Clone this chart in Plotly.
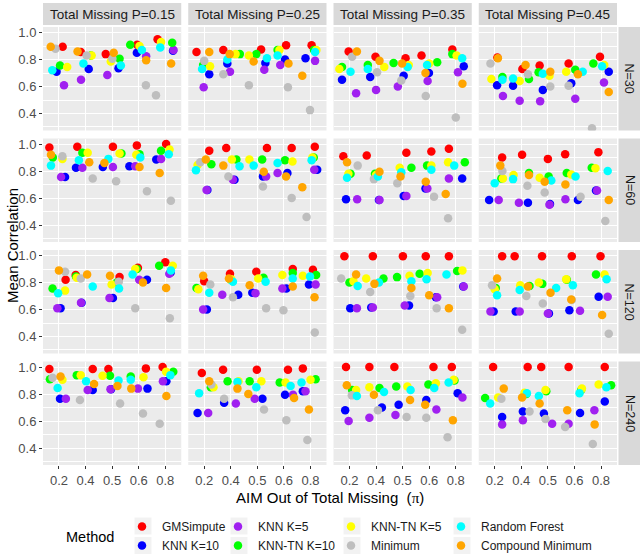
import plotly.graph_objects as go

# ---------------- data ----------------
P_LEVELS = ["0.15", "0.25", "0.35", "0.45"]
N_LEVELS = ["30", "60", "120", "240"]
AIM_LABELS = ["0.2", "0.4", "0.5", "0.6", "0.8"]
METHODS = ["GMSimpute", "KNN K=10", "KNN K=5", "KNN-TN K=10",
           "KNN-TN K=5", "Minimum", "Random Forest", "Compound Minimum"]
COLORS = ["#FF0000", "#0000FF", "#A020F0", "#00FF00",
          "#FFFF00", "#BEBEBE", "#00FFFF", "#FFA500"]

# panels in order: N=30 (P=.15,.25,.35,.45), N=60 (...), N=120 (...), N=240 (...)
# x = jittered AIM position (1..5 -> 0.2,0.4,0.5,0.6,0.8), y = mean correlation
GMS_X = [[1.14,1.82,2.76,3.94,4.71],[0.71,1.72,3.14,4.08,5.04],[0.97,1.98,3.11,3.71,4.87],[1.10,2.04,2.69,3.78,4.96],
         [0.64,1.69,3.03,3.93,5.03],[1.19,1.83,3.36,4.29,5.16],[0.77,1.65,3.14,4.08,4.74],[1.28,2.03,3.00,3.65,4.90],
         [1.25,1.63,3.28,3.97,5.00],[1.00,1.97,2.96,4.33,5.09],[0.81,1.88,3.01,3.87,4.74],[1.28,1.75,2.78,3.90,4.98],
         [0.64,2.27,2.86,4.27,4.90],[0.91,1.71,2.98,4.15,4.71],[0.87,1.75,2.69,4.16,4.85],[0.94,2.24,2.75,3.78,5.14]]
GMS_Y = [[0.895,0.855,0.84,0.91,0.95],[0.855,0.87,0.875,0.905,0.905],[0.86,0.82,0.81,0.83,0.875],[0.815,0.73,0.755,0.77,0.82],
         [0.975,0.98,0.98,0.99,1.0],[0.95,0.97,0.97,0.97,0.98],[0.91,0.915,0.935,0.945,0.965],[0.90,0.92,0.89,0.925,0.94],
         [0.82,0.855,0.84,0.91,0.95],[0.81,0.865,0.88,0.90,0.895],[0.995,0.995,0.995,0.995,0.995],[0.995,0.995,0.995,0.995,0.995],
         [0.985,0.985,0.985,0.99,1.0],[0.955,0.98,0.98,0.98,0.99],[1.0,1.0,1.0,1.0,1.0],[1.0,1.0,1.0,1.0,1.0]]

KNN10_X = [[0.91,2.12,3.24,3.93,5.29],[1.19,1.87,3.30,4.04,4.81],[0.72,1.78,3.04,3.99,5.30],[1.09,1.69,2.81,3.88,5.29],
           [1.23,1.64,2.65,3.65,4.66],[1.12,2.14,3.21,4.13,5.25],[0.87,2.11,3.04,3.86,5.24],[0.79,2.25,3.08,4.13,4.81],
           [1.06,1.85,3.03,4.31,5.20],[1.10,2.28,2.81,4.09,4.94],[1.03,1.82,3.24,4.25,5.28],[0.96,1.79,3.04,3.81,4.91],
           [1.04,2.27,2.96,4.33,5.04],[0.75,1.75,3.19,4.04,4.71],[0.84,2.22,2.85,3.89,5.07],[1.28,2.06,2.85,4.21,5.14]]
KNN10_Y = [[0.71,0.73,0.735,0.85,0.865],[0.69,0.77,0.775,0.80,0.81],[0.65,0.67,0.68,0.70,0.75],[0.61,0.605,0.575,0.625,0.71],
           [0.755,0.825,0.83,0.835,0.885],[0.66,0.735,0.76,0.785,0.81],[0.59,0.585,0.615,0.67,0.745],[0.585,0.565,0.555,0.585,0.655],
           [0.61,0.65,0.685,0.82,0.875],[0.60,0.71,0.725,0.755,0.785],[0.61,0.615,0.63,0.69,0.77],[0.585,0.585,0.57,0.595,0.695],
           [0.765,0.83,0.835,0.84,0.895],[0.66,0.735,0.765,0.795,0.82],[0.68,0.70,0.72,0.755,0.805],[0.63,0.67,0.655,0.66,0.745]]

KNN5_X = [[1.19,1.83,2.82,4.28,5.31],[0.98,1.97,3.26,3.86,5.17],[1.25,2.00,2.82,3.94,5.08],[1.31,1.94,2.71,4.03,5.11],
          [1.08,1.88,3.03,3.87,4.84],[1.09,2.08,3.33,3.76,5.14],[1.29,2.13,3.14,3.93,4.74],[1.15,1.91,3.06,3.66,4.85],
          [0.94,1.83,2.90,4.02,5.15],[0.96,1.68,2.93,3.94,5.19],[1.28,1.88,3.08,4.30,5.30],[0.84,1.94,3.00,4.21,5.25],
          [1.26,2.08,2.94,3.97,4.91],[1.15,2.19,2.90,4.34,4.81],[0.97,1.75,2.73,4.27,5.25],[1.28,2.06,3.16,3.78,4.75]]
KNN5_Y = [[0.61,0.65,0.685,0.825,0.87],[0.595,0.71,0.725,0.76,0.79],[0.55,0.575,0.60,0.64,0.705],[0.53,0.495,0.49,0.51,0.63],
          [0.755,0.825,0.83,0.835,0.89],[0.66,0.735,0.76,0.785,0.81],[0.59,0.585,0.615,0.67,0.745],[0.585,0.565,0.55,0.59,0.655],
          [0.61,0.65,0.685,0.82,0.865],[0.60,0.71,0.72,0.755,0.785],[0.61,0.615,0.63,0.69,0.77],[0.585,0.585,0.57,0.59,0.695],
          [0.765,0.83,0.835,0.84,0.895],[0.66,0.73,0.765,0.795,0.82],[0.60,0.625,0.645,0.685,0.775],[0.575,0.605,0.58,0.58,0.68]]

TN10_X = [[1.04,2.20,3.28,3.68,5.26],[0.96,2.34,2.96,3.76,5.13],[0.72,1.69,2.66,4.30,4.87],[1.29,2.29,2.65,4.03,4.71],
          [0.77,1.88,3.35,4.03,4.84],[1.27,2.21,3.18,4.04,5.12],[1.04,1.96,3.33,3.92,5.34],[1.25,2.29,3.03,3.71,4.65],
          [0.76,1.64,3.18,3.93,4.77],[0.71,2.00,3.23,4.33,5.21],[1.00,2.28,2.79,3.64,5.05],[1.04,2.31,2.79,3.71,4.81],
          [0.66,1.67,2.92,3.70,5.30],[1.25,1.88,2.71,3.84,5.19],[1.10,2.13,2.76,3.97,4.95],[0.64,2.19,2.94,4.25,5.38]]
TN10_Y = [[0.755,0.83,0.805,0.91,0.925],[0.76,0.84,0.84,0.87,0.87],[0.745,0.76,0.775,0.78,0.84],[0.67,0.655,0.705,0.725,0.77],
          [0.90,0.935,0.93,0.925,0.95],[0.85,0.885,0.885,0.88,0.90],[0.78,0.78,0.825,0.84,0.865],[0.745,0.785,0.76,0.785,0.825],
          [0.755,0.845,0.80,0.90,0.925],[0.76,0.82,0.835,0.87,0.855],[0.80,0.83,0.84,0.865,0.885],[0.76,0.775,0.79,0.82,0.86],
          [0.91,0.94,0.935,0.93,0.965],[0.85,0.895,0.895,0.885,0.91],[0.83,0.845,0.855,0.87,0.90],[0.77,0.80,0.82,0.83,0.865]]

TN5_X = [[1.31,2.23,2.95,4.03,4.84],[1.22,2.18,2.68,3.83,5.22],[0.62,2.31,3.23,4.00,5.03],[0.875,1.94,3.06,3.69,5.12],
         [1.13,2.08,3.28,3.91,5.16],[0.75,2.04,2.70,4.32,5.07],[0.96,2.00,2.89,4.08,4.71],[1.31,1.71,2.69,3.88,4.79],
         [1.23,1.67,2.98,3.87,5.28],[0.78,2.02,3.03,3.94,4.71],[1.15,1.63,3.26,3.94,5.25],[1.00,1.96,2.66,3.69,5.13],
         [1.13,1.82,2.64,4.18,5.03],[1.35,2.29,3.15,4.06,5.00],[1.25,1.75,3.18,4.25,4.92],[1.13,2.12,2.91,4.28,4.91]]
TN5_Y = [[0.745,0.83,0.785,0.90,0.93],[0.75,0.84,0.83,0.87,0.87],[0.73,0.745,0.76,0.77,0.83],[0.655,0.64,0.68,0.71,0.76],
         [0.89,0.935,0.93,0.92,0.96],[0.845,0.885,0.885,0.87,0.90],[0.78,0.77,0.825,0.84,0.865],[0.745,0.77,0.75,0.775,0.82],
         [0.74,0.835,0.785,0.90,0.925],[0.75,0.825,0.83,0.855,0.85],[0.81,0.83,0.85,0.87,0.89],[0.75,0.78,0.80,0.825,0.86],
         [0.905,0.94,0.935,0.925,0.965],[0.85,0.895,0.895,0.885,0.905],[0.83,0.85,0.855,0.88,0.905],[0.775,0.81,0.83,0.84,0.87]]

MIN_X = [[0.87,2.04,3.01,4.27,4.65],[1.00,1.72,2.68,4.15,4.98],[1.10,2.04,2.95,3.87,5.00],[0.84,2.25,3.09,3.78,4.66],
         [1.13,2.27,3.15,4.31,5.21],[0.85,1.91,3.21,4.29,4.85],[1.31,1.92,2.80,4.18,4.71],[1.29,2.23,2.88,4.23,5.16],
         [1.23,1.82,3.25,3.87,5.17],[1.23,2.08,3.33,3.98,5.16],[0.69,1.78,3.29,4.28,5.24],[0.90,2.19,2.81,3.90,5.29],
         [0.76,1.79,3.30,4.16,4.79],[1.27,1.75,3.25,4.09,4.88],[1.09,2.07,3.15,3.89,4.69],[1.25,2.31,2.91,3.65,4.69]]
MIN_Y = [[0.88,0.83,0.805,0.61,0.535],[0.79,0.69,0.61,0.595,0.425],[0.82,0.705,0.645,0.53,0.37],[0.77,0.69,0.60,0.605,0.29],
         [0.91,0.745,0.725,0.65,0.58],[0.865,0.76,0.685,0.60,0.46],[0.84,0.74,0.71,0.61,0.45],[0.80,0.69,0.64,0.61,0.43],
         [0.88,0.83,0.805,0.61,0.535],[0.785,0.69,0.61,0.595,0.43],[0.83,0.73,0.70,0.61,0.45],[0.78,0.70,0.645,0.67,0.42],
         [0.92,0.755,0.73,0.655,0.58],[0.87,0.765,0.685,0.605,0.46],[0.79,0.68,0.63,0.625,0.48],[0.765,0.67,0.615,0.555,0.43]]

RF_X = [[0.75,1.92,3.33,4.12,4.81],[0.92,1.87,3.36,3.76,5.17],[1.04,1.69,3.19,3.92,5.24],[1.29,1.69,2.81,4.31,5.04],
        [0.70,1.75,2.86,4.06,5.13],[0.69,2.33,2.86,3.76,5.04],[0.91,2.07,2.95,4.08,4.94],[1.00,1.69,3.13,4.04,5.25],
        [0.97,2.27,3.26,3.77,5.21],[1.19,2.08,3.31,4.33,4.98],[1.31,2.11,3.33,3.90,4.65],[1.09,1.94,3.31,3.94,5.21],
        [0.95,2.02,3.24,3.70,5.19],[0.81,2.25,2.96,4.25,4.66],[1.28,2.30,3.30,4.19,4.73],[0.83,2.21,2.66,4.19,5.20]]
RF_Y = [[0.72,0.77,0.755,0.87,0.89],[0.73,0.80,0.81,0.83,0.855],[0.71,0.73,0.745,0.76,0.81],[0.65,0.66,0.695,0.71,0.75],
        [0.84,0.88,0.89,0.90,0.925],[0.805,0.835,0.84,0.86,0.88],[0.75,0.76,0.79,0.81,0.84],[0.71,0.74,0.73,0.76,0.80],
        [0.72,0.77,0.755,0.86,0.89],[0.725,0.805,0.805,0.83,0.845],[0.775,0.80,0.81,0.825,0.86],[0.705,0.745,0.76,0.78,0.825],
        [0.845,0.895,0.90,0.905,0.94],[0.805,0.89,0.85,0.86,0.885],[0.785,0.815,0.83,0.845,0.885],[0.73,0.805,0.785,0.805,0.85]]

CMIN_X = [[0.69,1.70,3.06,4.28,5.22],[1.19,1.96,2.86,4.17,4.69],[1.28,2.13,2.98,3.86,5.25],[1.12,2.16,3.09,4.13,5.29],
          [0.70,2.14,2.71,4.03,4.79],[1.06,1.72,3.24,4.08,4.69],[0.91,2.13,2.92,3.87,4.62],[1.21,2.29,2.88,3.66,5.29],
          [1.00,2.06,2.92,4.16,5.03],[0.96,1.93,2.71,4.33,5.15],[1.25,1.94,3.33,4.00,4.74],[1.09,2.25,3.10,3.88,5.04],
          [1.06,2.32,3.20,3.72,5.04],[1.19,2.25,2.66,4.38,4.94],[0.90,1.92,3.28,3.85,4.89],[1.34,2.03,2.69,3.73,4.76]]
CMIN_Y = [[0.895,0.86,0.85,0.795,0.77],[0.855,0.84,0.785,0.77,0.68],[0.86,0.79,0.77,0.70,0.62],[0.81,0.76,0.71,0.69,0.56],
          [0.92,0.865,0.86,0.83,0.785],[0.885,0.84,0.795,0.76,0.68],[0.865,0.795,0.76,0.72,0.63],[0.84,0.77,0.72,0.70,0.585],
          [0.89,0.86,0.85,0.80,0.76],[0.85,0.83,0.78,0.77,0.69],[0.86,0.79,0.76,0.705,0.61],[0.83,0.77,0.725,0.675,0.56],
          [0.93,0.875,0.86,0.84,0.785],[0.895,0.84,0.80,0.77,0.685],[0.865,0.795,0.755,0.72,0.605],[0.84,0.775,0.73,0.68,0.575]]

SERIES_X = [GMS_X, KNN10_X, KNN5_X, TN10_X, TN5_X, MIN_X, RF_X, CMIN_X]
SERIES_Y = [GMS_Y, KNN10_Y, KNN5_Y, TN10_Y, TN5_Y, MIN_Y, RF_Y, CMIN_Y]

# ---------------- layout geometry (pixels) ----------------
W, H = 643, 559
ML, MR, MT, MB = 43, 26, 27, 94
PW, PH = W - ML - MR, H - MT - MB
PANEL_W, GAP_X = 138.25, 7.0
PANEL_H, GAP_Y = 103.5, 8.0
FONT = "Liberation Sans, Arial, sans-serif"

def fx(px):
    return (px - ML) / PW

def fy(py):
    return 1 - (py - MT) / PH

fig = go.Figure()
layout = dict()
shapes = []
annotations = []

for r in range(4):
    for c in range(4):
        k = r * 4 + c
        sfx = "" if k == 0 else str(k + 1)
        x0 = ML + c * (PANEL_W + GAP_X)
        x1 = x0 + PANEL_W
        y0 = MT + r * (PANEL_H + GAP_Y)
        y1 = y0 + PANEL_H
        layout["xaxis" + sfx] = dict(
            domain=[fx(x0), fx(x1)], anchor="y" + sfx, range=[0.4, 5.6],
            tickmode="array", tickvals=[1, 2, 3, 4, 5], ticktext=AIM_LABELS,
            showticklabels=(r == 3), ticks="outside" if r == 3 else "",
            ticklen=3, tickcolor="#333333", tickwidth=1,
            tickfont=dict(size=13, color="#4D4D4D", family=FONT),
            showgrid=True, gridcolor="#FFFFFF", gridwidth=1.1,
            zeroline=False, showline=False, fixedrange=True)
        layout["yaxis" + sfx] = dict(
            domain=[fy(y1), fy(y0)], anchor="x" + sfx, range=[0.274, 1.041],
            tickmode="array", tickvals=[0.4, 0.6, 0.8, 1.0],
            ticktext=["0.4", "0.6", "0.8", "1.0"],
            showticklabels=(c == 0), ticks="outside" if c == 0 else "",
            ticklen=3, tickcolor="#333333", tickwidth=1,
            tickfont=dict(size=13, color="#4D4D4D", family=FONT),
            showgrid=True, gridcolor="#FFFFFF", gridwidth=1.1,
            minor=dict(tickvals=[0.3, 0.5, 0.7, 0.9], showgrid=True,
                       gridcolor="#FFFFFF", gridwidth=0.5, ticks=""),
            zeroline=False, showline=False, fixedrange=True)
        for m, name in enumerate(METHODS):
            fig.add_trace(go.Scatter(
                x=SERIES_X[m][k], y=SERIES_Y[m][k], mode="markers",
                name=name, legendgroup=name, showlegend=(k == 0),
                legend="legend" if m // 2 == 0 else "legend" + str(m // 2 + 1),
                marker=dict(color=COLORS[m], size=8.5, line=dict(width=0)),
                xaxis="x" + sfx, yaxis="y" + sfx, hoverinfo="skip"))
        # top strips
        if r == 0:
            shapes.append(dict(type="rect", xref="paper", yref="paper",
                               x0=fx(x0), x1=fx(x1), y0=fy(25), y1=fy(3),
                               fillcolor="#D9D9D9", line=dict(width=0), layer="below"))
            annotations.append(dict(text="Total Missing P=" + P_LEVELS[c],
                                    xref="paper", yref="paper",
                                    x=fx((x0 + x1) / 2), y=fy(14), showarrow=False,
                                    xanchor="center", yanchor="middle",
                                    font=dict(size=13.5, color="#1A1A1A", family=FONT)))
        if c == 3:
            shapes.append(dict(type="rect", xref="paper", yref="paper",
                               x0=fx(618.5), x1=fx(640), y0=fy(y1), y1=fy(y0),
                               fillcolor="#D9D9D9", line=dict(width=0), layer="below"))
            annotations.append(dict(text="N=" + N_LEVELS[r], textangle=90,
                                    xref="paper", yref="paper",
                                    x=fx(629.25), y=fy((y0 + y1) / 2), showarrow=False,
                                    xanchor="center", yanchor="middle",
                                    font=dict(size=12.5, color="#1A1A1A", family=FONT)))

annotations.append(dict(text="AIM Out of Total Missing  (<span style='font-family:Liberation Serif, serif'>π</span>)",
                        xref="paper", yref="paper", x=fx(330), y=fy(497),
                        showarrow=False, xanchor="center", yanchor="middle",
                        font=dict(size=15, color="#000000", family=FONT)))
annotations.append(dict(text="Mean Correlation", textangle=-90,
                        xref="paper", yref="paper", x=fx(12), y=fy(246),
                        showarrow=False, xanchor="center", yanchor="middle",
                        font=dict(size=15, color="#000000", family=FONT)))
annotations.append(dict(text="Method", xref="paper", yref="paper",
                        x=fx(64), y=fy(537), showarrow=False,
                        xanchor="left", yanchor="middle",
                        font=dict(size=14.5, color="#000000", family=FONT)))

# legend: four columns of two keys each, with light key backgrounds
LEG_X = [122, 218, 331, 441]
KEY_CX = [143, 239, 352, 462]
KEY_CY = [526, 545.5]
for i, lx in enumerate(LEG_X):
    key = "legend" if i == 0 else "legend" + str(i + 1)
    layout[key] = dict(x=fx(lx), xanchor="left", y=fy(512), yanchor="top",
                       orientation="v", bgcolor="rgba(0,0,0,0)",
                       font=dict(size=12, color="#1A1A1A", family=FONT),
                       itemwidth=30, tracegroupgap=0, traceorder="normal")
    for cy in KEY_CY:
        shapes.append(dict(type="rect", xref="paper", yref="paper",
                           x0=fx(KEY_CX[i] - 8.5), x1=fx(KEY_CX[i] + 8.5),
                           y0=fy(cy + 8.5), y1=fy(cy - 8.5),
                           fillcolor="#F2F2F2", line=dict(width=0), layer="below"))

fig.update_layout(**layout)
fig.update_layout(
    width=W, height=H,
    margin=dict(l=ML, r=MR, t=MT, b=MB, pad=0, autoexpand=False),
    paper_bgcolor="#FFFFFF", plot_bgcolor="#EBEBEB",
    shapes=shapes, annotations=annotations,
    font=dict(family=FONT, color="#1A1A1A"), showlegend=True)

fig.write_html(
    "out.html",
    config={"displayModeBar": False, "responsive": False},
    post_script=("document.body.style.margin='0';document.body.style.overflow='hidden';"
                 "var d=document.getElementById('{plot_id}');"
                 "d.style.position='fixed';d.style.top='0';d.style.left='0';"))
